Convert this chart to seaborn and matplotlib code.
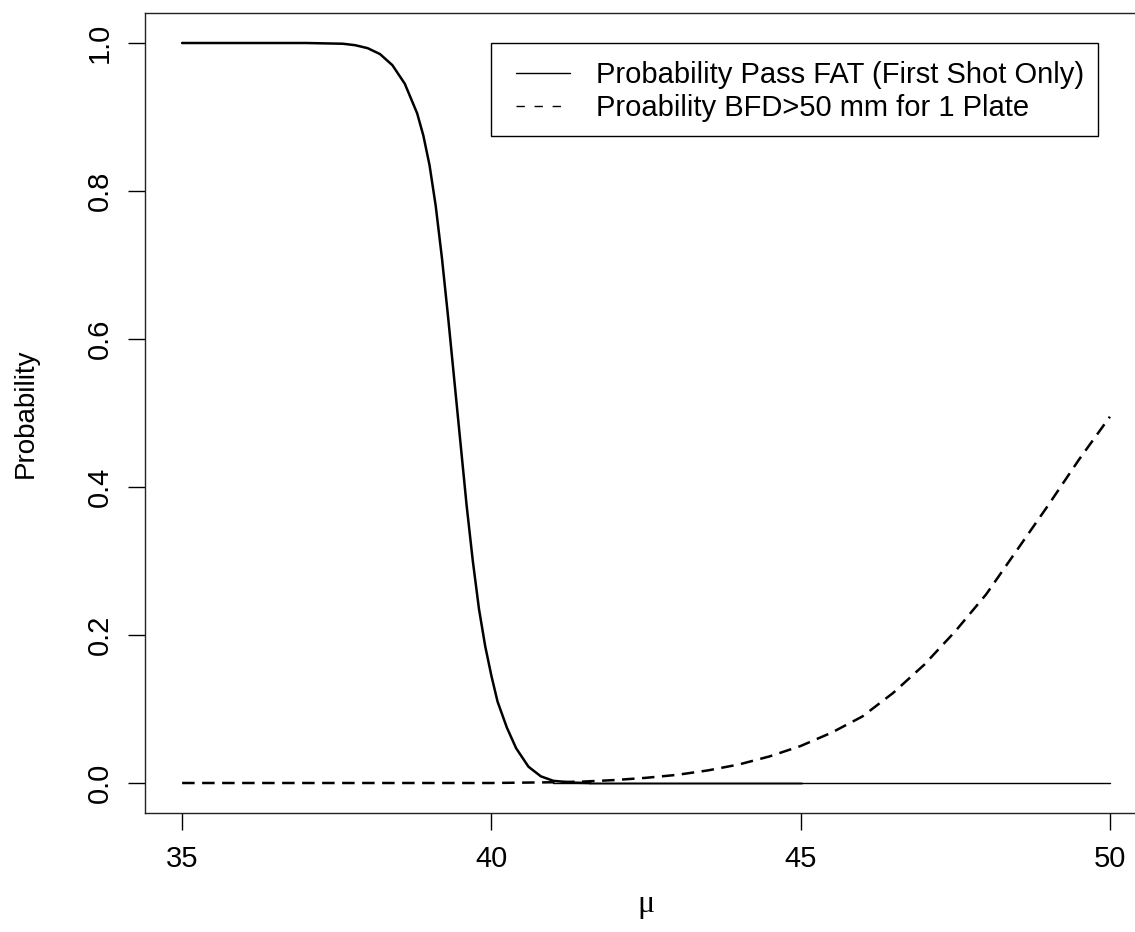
import numpy as np
import matplotlib.pyplot as plt
from matplotlib.lines import Line2D
from matplotlib.patches import Rectangle
import seaborn as sns

# values
pass_mu = [35.0, 37.0, 37.6, 37.8, 38.0, 38.2, 38.4, 38.6, 38.8, 38.9, 39.0, 39.1, 39.2,
           39.3, 39.4, 39.5, 39.6, 39.7, 39.8, 39.9, 40.0, 40.1, 40.25, 40.4, 40.6, 40.8,
           41.0, 41.3, 41.6, 45.0]
pass_prob = [1.0, 1.0, 0.999, 0.997, 0.993, 0.985, 0.97, 0.945, 0.905, 0.875, 0.835, 0.78,
             0.71, 0.63, 0.545, 0.46, 0.375, 0.30, 0.235, 0.185, 0.145, 0.11, 0.075, 0.047,
             0.022, 0.009, 0.003, 0.0005, 0.0, 0.0]

bfd_mu = [35.0, 40.0, 41.0, 41.5, 42.0, 42.5, 43.0, 43.5, 44.0, 44.5, 45.0, 45.5,
          46.0, 46.5, 47.0, 47.5, 48.0, 48.5, 49.0, 49.5, 50.0]
bfd_prob = [0.0, 0.0, 0.001, 0.002, 0.004, 0.007, 0.011, 0.017, 0.025, 0.036, 0.05, 0.068,
            0.09, 0.122, 0.16, 0.205, 0.255, 0.315, 0.375, 0.437, 0.495]

zero_mu = [41.0, 50.0]
zero_prob = [0.0, 0.0]

x_ticks = [35, 40, 45, 50]
y_ticks = [0.0, 0.2, 0.4, 0.6, 0.8, 1.0]
legend_labels = ["Probability Pass FAT (First Shot Only)",
                 "Proability BFD>50 mm for 1 Plate"]

sns.set_theme(style="white")
plt.rcParams['font.family'] = ['Liberation Sans', 'DejaVu Sans']
plt.rcParams['text.color'] = 'black'
plt.rcParams['axes.labelcolor'] = 'black'
plt.rcParams['xtick.color'] = 'black'
plt.rcParams['ytick.color'] = 'black'

W, H = 1135, 932
fs = 21
fig = plt.figure(figsize=(W / 100, H / 100), dpi=100)
ax = fig.add_axes([145 / W, 1 - 812.6 / H, (1147 - 145) / W, 799.2 / H])

pm = np.array(pass_mu)
pp = np.array(pass_prob)
head = pm <= 41.6
tail = pm >= 41.6

# faint thick tail of the first curve, then the thin zero line on top
sns.lineplot(x=pm[tail], y=pp[tail], ax=ax, color='#9a9a9a', linewidth=2.2)
sns.lineplot(x=zero_mu, y=zero_prob, ax=ax, color='black', linewidth=1.0)
sns.lineplot(x=pm[head], y=pp[head], ax=ax, color='black', linewidth=1.8)
sns.lineplot(x=bfd_mu, y=bfd_prob, ax=ax, color='black', linewidth=1.8,
             linestyle=(0, (5, 3)))

ax.set_xlim(34.4, 50.6)
ax.set_ylim(-0.04, 1.04)
ax.set_xticks(x_ticks)
ax.set_xticklabels([str(t) for t in x_ticks], fontsize=fs)
ax.set_yticks(y_ticks)
ax.set_yticklabels([f"{t:.1f}" for t in y_ticks], fontsize=fs, rotation=90, va='center')
ax.tick_params(direction='out', length=12.2, width=1, color='black',
               bottom=True, left=True)
ax.tick_params(axis='x', pad=11)
ax.tick_params(axis='y', pad=10)
for sp in ax.spines.values():
    sp.set_visible(True)
    sp.set_color('#222222')
    sp.set_linewidth(1.0)

ax.set_xlabel("μ", fontsize=23, family=['Liberation Serif', 'DejaVu Serif'])
ax.xaxis.set_label_coords(0.5, (812.6 - 890) / 799.2)
ax.set_ylabel("Probability", fontsize=20)
ax.yaxis.set_label_coords((39 - 145) / 1002, 0.5)

# legend box like R's
fig.patches.append(Rectangle((490.7 / W, 1 - 136 / H), (1098 - 490.7) / W, (136 - 42.7) / H,
                             transform=fig.transFigure, fill=False, edgecolor='black',
                             linewidth=1.0))
handles = [Line2D([], [], color='black', linewidth=1.0),
           Line2D([], [], color='black', linewidth=1.0, linestyle=(0, (6, 7)))]
fig.legend(handles, legend_labels, loc='upper left',
           bbox_to_anchor=(516 / W, 1 - 61 / H), bbox_transform=fig.transFigure,
           frameon=False, fontsize=fs, borderpad=0, borderaxespad=0,
           handlelength=1.85, handletextpad=0.9, labelspacing=0.18)

fig.savefig("out.png", dpi=100, facecolor='white')
